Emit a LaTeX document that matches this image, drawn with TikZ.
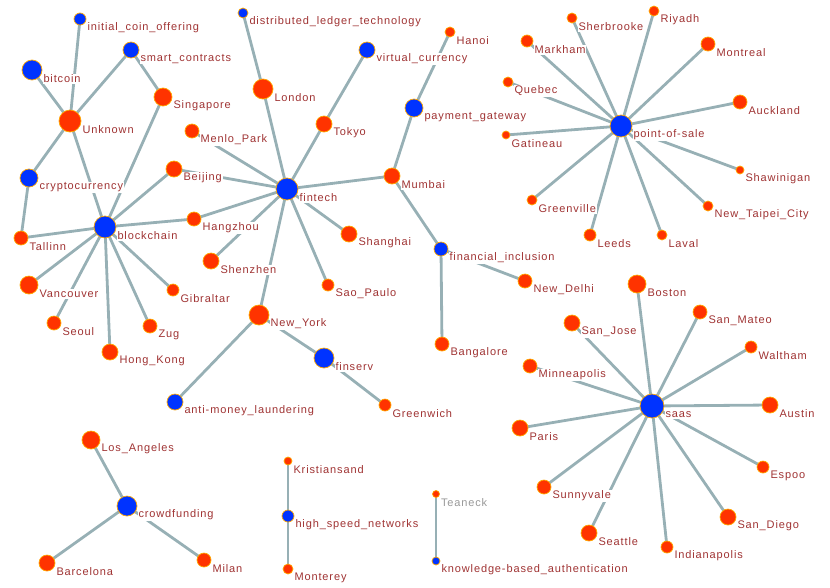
\documentclass[tikz,border=0pt]{standalone}
\usepackage{fontspec}
\setmainfont{Liberation Sans}[LetterSpace=8]
\usetikzlibrary{calc}
\pgfdeclarelayer{background}
\pgfdeclarelayer{fg}
\pgfsetlayers{background,main,fg}
\definecolor{nred}{HTML}{FF3300}
\definecolor{nblue}{HTML}{0033FF}
\definecolor{nrim}{HTML}{FFA800}
\definecolor{ltxt}{HTML}{A03333}
\definecolor{edgec}{HTML}{97B0B5}
\tikzset{
  rn/.style={circle,fill=nred,draw=nrim,line width=0.7pt,inner sep=0pt},
  bn/.style={circle,fill=nblue,draw=nrim,line width=0.7pt,inner sep=0pt},
  lbl/.style={anchor=west,fill=white,inner sep=0.8pt,text=ltxt,font=\fontsize{11}{13}\selectfont},
  edge/.style={draw=edgec,line width=2.8pt},
}
\newcommand\mynd[7][]{%
  \node[#6, minimum size={2*#5}] (#2) at (#3,#4) {};
  \begin{pgfonlayer}{fg}
  \node[lbl,#1] (#2-l) at ({#3+#5+0.5},{#4+9}) {#7};
  \end{pgfonlayer}
}
\begin{document}
\begin{tikzpicture}[x=1pt,y=-1pt]
\useasboundingbox (0,0) rectangle (830,587);
% left cluster
\mynd{ico}{80}{19}{6}{bn}{initial\_coin\_offering}
\mynd{btc}{32}{70}{10}{bn}{bitcoin}
\mynd{sc}{131}{50}{8}{bn}{smart\_contracts}
\mynd{sgp}{163}{97}{9}{rn}{Singapore}
\mynd{unk}{70}{121}{11}{rn}{Unknown}
\mynd{menlo}{192}{131}{7}{rn}{Menlo\_Park}
\mynd{beij}{174}{169}{8}{rn}{Beijing}
\mynd{crypto}{29}{178}{9}{bn}{cryptocurrency}
\mynd{bc}{105}{227}{11}{bn}{blockchain}
\mynd{tall}{21}{238}{7}{rn}{Tallinn}
\mynd{hang}{194}{219}{7}{rn}{Hangzhou}
\mynd{shen}{211}{261}{8}{rn}{Shenzhen}
\mynd{vanc}{29}{285}{9}{rn}{Vancouver}
\mynd{gib}{173}{290}{6}{rn}{Gibraltar}
\mynd{seoul}{54}{323}{7}{rn}{Seoul}
\mynd{zug}{150}{326}{7}{rn}{Zug}
\mynd{hk}{110}{352}{8}{rn}{Hong\_Kong}
\mynd{ny}{259}{315}{10}{rn}{New\_York}
\mynd{aml}{175}{402}{8}{bn}{anti-money\_laundering}
% middle
\mynd{dlt}{243}{13}{5}{bn}{distributed\_ledger\_technology}
\mynd{lon}{263}{89}{10}{rn}{London}
\mynd{vc}{367}{50}{8}{bn}{virtual\_currency}
\mynd{pg}{414}{108}{9}{bn}{payment\_gateway}
\mynd{tok}{324}{124}{8}{rn}{Tokyo}
\mynd{mum}{392}{176}{8}{rn}{Mumbai}
\mynd{fin}{287}{189}{11}{bn}{fintech}
\mynd{shan}{349}{234}{8}{rn}{Shanghai}
\mynd{sao}{328}{285}{6}{rn}{Sao\_Paulo}
\mynd{fsv}{324}{358}{10}{bn}{finserv}
\mynd{grw}{385}{405}{6}{rn}{Greenwich}
\mynd{fi}{441}{249}{7}{bn}{financial\_inclusion}
\mynd{bang}{442}{344}{7}{rn}{Bangalore}
\mynd{hanoi}{450}{32}{5}{rn}{Hanoi}
\mynd{ndel}{525}{281}{7}{rn}{New\_Delhi}
% point-of-sale cluster
\mynd{pos}{621}{126}{11}{bn}{point-of-sale}
\mynd{sher}{572}{18}{5}{rn}{Sherbrooke}
\mynd{riy}{654}{11}{5}{rn}{Riyadh}
\mynd{mark}{527}{41}{6}{rn}{Markham}
\mynd{mont}{708}{44}{7}{rn}{Montreal}
\mynd{queb}{508}{82}{5}{rn}{Quebec}
\mynd{auck}{740}{102}{7}{rn}{Auckland}
\mynd{gat}{506}{135}{4}{rn}{Gatineau}
\mynd{shaw}{740}{170}{4}{rn}{Shawinigan}
\mynd{gvl}{532}{200}{5}{rn}{Greenville}
\mynd{ntc}{708}{206}{5}{rn}{New\_Taipei\_City}
\mynd{leeds}{590}{235}{6}{rn}{Leeds}
\mynd{laval}{662}{235}{5}{rn}{Laval}
% saas cluster
\mynd{saas}{652}{406}{12}{bn}{saas}
\mynd{bos}{637}{284}{9}{rn}{Boston}
\mynd{smat}{700}{312}{7}{rn}{San\_Mateo}
\mynd{sjo}{572}{323}{8}{rn}{San\_Jose}
\mynd{walt}{751}{347}{6}{rn}{Waltham}
\mynd{minn}{530}{366}{7}{rn}{Minneapolis}
\mynd{aus}{770}{405}{8}{rn}{Austin}
\mynd{par}{520}{428}{8}{rn}{Paris}
\mynd{esp}{763}{467}{6}{rn}{Espoo}
\mynd{sunny}{544}{487}{7}{rn}{Sunnyvale}
\mynd{sdg}{728}{517}{8}{rn}{San\_Diego}
\mynd{sea}{589}{533}{8}{rn}{Seattle}
\mynd{ind}{667}{547}{6}{rn}{Indianapolis}
% small components
\mynd[text=gray!80]{tea}{436}{494}{3.5}{rn}{Teaneck}
\mynd{kba}{436}{561}{4}{bn}{knowledge-based\_authentication}
\mynd{la}{91}{440}{9}{rn}{Los\_Angeles}
\mynd{cf}{127}{506}{10}{bn}{crowdfunding}
\mynd{barc}{47}{563}{8}{rn}{Barcelona}
\mynd{milan}{204}{560}{7}{rn}{Milan}
\mynd{kri}{288}{461}{4}{rn}{Kristiansand}
\mynd{hsn}{288}{516}{6}{bn}{high\_speed\_networks}
\mynd{mon}{288}{569}{5}{rn}{Monterey}

\begin{pgfonlayer}{background}
\foreach \a/\b in {ico/unk,btc/unk,sc/unk,sc/sgp,sgp/bc,unk/crypto,unk/bc,crypto/tall,tall/bc,
  bc/beij,bc/hang,bc/vanc,bc/seoul,bc/hk,bc/zug,bc/gib,hang/fin,beij/fin,menlo/fin,lon/fin,lon/dlt,
  tok/fin,tok/vc,mum/fin,mum/pg,pg/hanoi,mum/fi,fi/ndel,fi/bang,fin/shan,fin/sao,fin/shen,fin/ny,
  ny/aml,ny/fsv,fsv/grw,
  pos/sher,pos/riy,pos/mark,pos/mont,pos/queb,pos/auck,pos/gat,pos/shaw,pos/gvl,pos/ntc,pos/leeds,pos/laval,
  saas/bos,saas/smat,saas/sjo,saas/walt,saas/minn,saas/aus,saas/par,saas/esp,saas/sunny,saas/sdg,saas/sea,saas/ind,
  cf/la,cf/barc,cf/milan,hsn/kri,hsn/mon,tea/kba}
  \draw[edge] (\a.center) -- (\b.center);
\end{pgfonlayer}
\end{tikzpicture}
\end{document}
